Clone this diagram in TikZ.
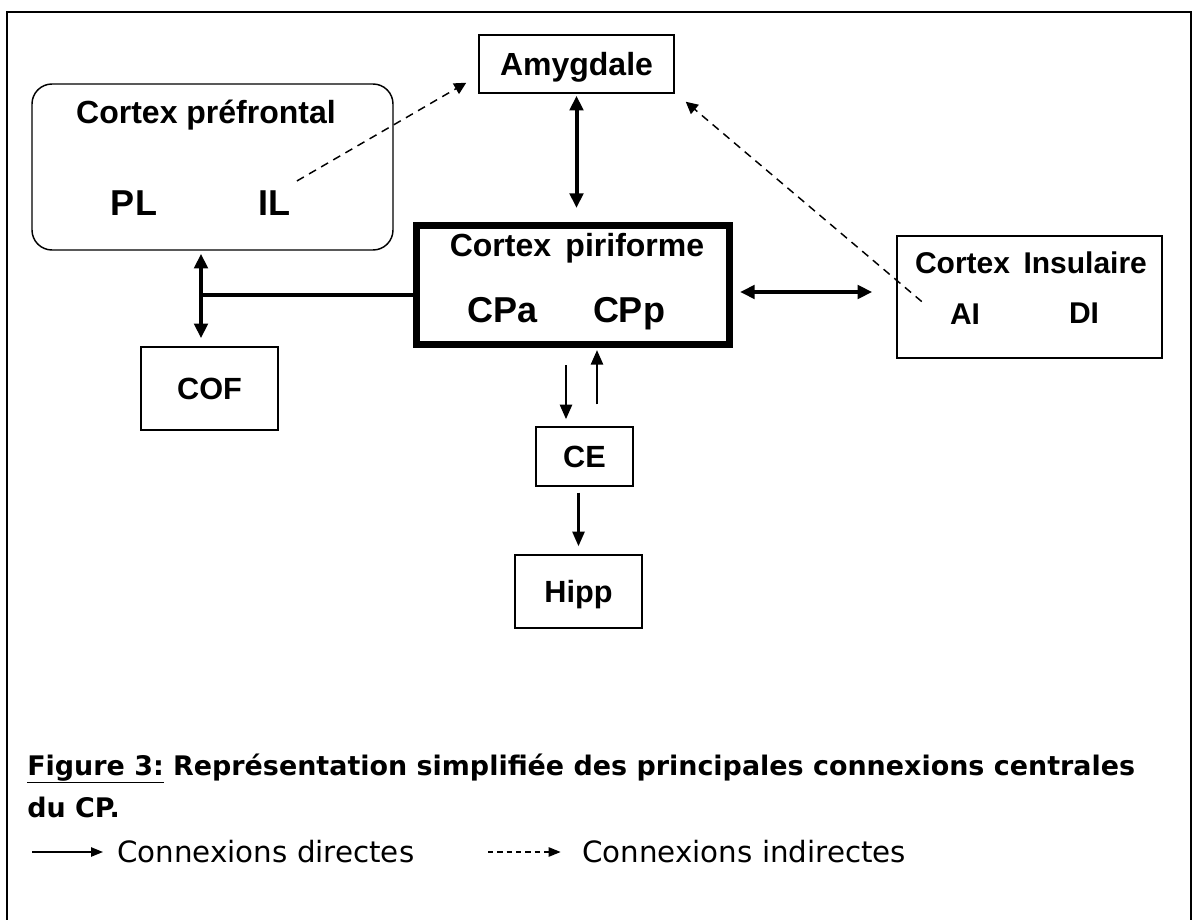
\documentclass[tikz,border=0pt]{standalone}
\usepackage{fontspec}
\setmainfont{Liberation Sans}
\newfontfamily\captionfont{DejaVu Sans}
\usetikzlibrary{arrows.meta}

\begin{document}
\begin{tikzpicture}[x=0.75pt, y=-0.75pt]
    \useasboundingbox (0, 0) rectangle (1193, 920);
    \tikzset{AreaBox/.style={draw=black, line width=1.1pt, inner sep=0pt, text depth=0pt, font=\bfseries\fontsize{23}{23}\selectfont}}
    \tikzset{AreaLabel/.style={anchor=base, inner sep=0pt, font=\bfseries\fontsize{24}{24}\selectfont}}
    \tikzset{SubLabel/.style={anchor=base, inner sep=0pt, font=\bfseries\fontsize{27}{27}\selectfont}}
    \tikzset{TwoWay/.style={{Triangle[length=11pt, width=10pt]}-{Triangle[length=11pt, width=10pt]}, line width=3pt}}
    \tikzset{OneWay/.style={-{Triangle[length=11pt, width=9pt]}, line width=2pt}}
    \tikzset{Indirect/.style={-{Triangle[length=9pt, width=9pt]}, line width=1.1pt, dash pattern=on 6pt off 4.5pt}}
    \tikzset{CaptionText/.style={anchor=base west, inner sep=0pt, font=\captionfont\bfseries\fontsize{20.2}{22}\selectfont}}
    \tikzset{LegendText/.style={anchor=base west, inner sep=0pt, font=\captionfont\fontsize{22}{24}\selectfont}}

    \draw[line width=1.5pt] (7, 920) -- (7, 12) -- (1191, 12) -- (1191, 920); % frame

    \node[AreaBox, rounded corners=15pt, minimum width=361*0.75pt, minimum height=166*0.75pt] (pfc) at (212.5, 167) {}; % prefrontal
    \node[AreaLabel] (pfc-title) at (206, 124) {Cortex préfrontal};
    \node[SubLabel] (pl) at (134, 216) {PL};
    \node[SubLabel] (il) at (274, 216) {IL};

    \node[AreaBox, font=\bfseries\fontsize{24}{24}\selectfont, minimum width=195*0.75pt, minimum height=58*0.75pt] (amy) at (576.5, 64) {Amygdale}; % amygdala

    \node[AreaBox, line width=5.25pt, minimum width=313*0.75pt, minimum height=119*0.75pt] (piri) at (573, 285) {}; % piriform
    \node[AreaLabel] (piri-title) at (577, 257) {Cortex\hspace{0.45em}piriforme};
    \node[SubLabel] (cpa) at (503, 322) {CPa};
    \node[SubLabel] (cpp) at (629, 322) {CPp};

    \node[AreaBox, minimum width=265*0.75pt, minimum height=122*0.75pt] (ins) at (1029.5, 297) {}; % insula
    \node[AreaLabel, font=\bfseries\fontsize{22.5}{24}\selectfont] (ins-title) at (1031, 273) {Cortex\hspace{0.45em}Insulaire};
    \node[AreaLabel, font=\bfseries\fontsize{22.5}{24}\selectfont] (ai) at (965, 325) {AI};
    \node[AreaLabel, font=\bfseries\fontsize{22.5}{24}\selectfont] (di) at (1084, 323) {DI};

    \node[AreaBox, minimum width=137*0.75pt, minimum height=83*0.75pt] (cof) at (209.5, 388.5) {COF}; % orbitofrontal
    \node[AreaBox, minimum width=97*0.75pt, minimum height=59*0.75pt] (ce) at (584.5, 456.5) {CE}; % entorhinal
    \node[AreaBox, minimum width=127*0.75pt, minimum height=73*0.75pt] (hipp) at (578.5, 591.5) {Hipp}; % hippocampus

    \coordinate (junction) at (201, 295);
    \coordinate (lateral) at (800, 292);
    \coordinate (ce-in) at (566, 0);
    \coordinate (ce-out) at (597, 0);

    \draw[TwoWay, shorten <=1.5pt, shorten >=10.5pt] (amy.south) -- (amy.south |- piri.north);
    \draw[TwoWay, shorten <=2.25pt, shorten >=6pt] (junction |- pfc.south) -- (junction |- cof.north);
    \draw[line width=3pt] (junction) -- (junction -| piri.west);
    \draw[TwoWay, shorten <=5.25pt, shorten >=18pt] (lateral -| piri.east) -- (lateral -| ins.west);
    \draw[OneWay, shorten <=12.75pt, shorten >=5.25pt] (ce-in |- piri.south) -- (ce-in |- ce.north);
    \draw[OneWay, shorten <=16.5pt, shorten >=1.5pt] (ce-out |- ce.north) -- (ce-out |- piri.south);
    \draw[OneWay, shorten <=4.5pt, shorten >=6pt] (hipp.north |- ce.south) -- (hipp.north);
    \draw[Indirect] ([xshift=5pt, yshift=7.5pt]il.north east) -- ([xshift=-9pt, yshift=8.25pt]amy.south west);
    \draw[Indirect] ([xshift=-21pt, yshift=1.9pt]ai.north west) -- ([xshift=8.25pt, yshift=-6pt]amy.south east);

    \node[CaptionText] (caption) at (27, 775) {\underline{Figure 3:} Représentation simplifiée des principales connexions centrales};
    \node[CaptionText] (caption-end) at (27, 817) {du CP.};

    \coordinate (direct-from) at (32, 852);
    \coordinate (indirect-from) at (488, 852);
    \node[LegendText] (direct-text) at (117, 862) {Connexions directes};
    \node[LegendText] (indirect-text) at (582, 862) {Connexions indirectes};
    \draw[-{Triangle[length=9pt, width=7pt]}, line width=1.1pt, shorten >=10.5pt] (direct-from) -- (direct-from -| direct-text.west);
    \draw[-{Triangle[length=9pt, width=7pt]}, line width=1.1pt, dash pattern=on 4pt off 3pt, shorten >=16pt] (indirect-from) -- (indirect-from -| indirect-text.west);
\end{tikzpicture}
\end{document}
